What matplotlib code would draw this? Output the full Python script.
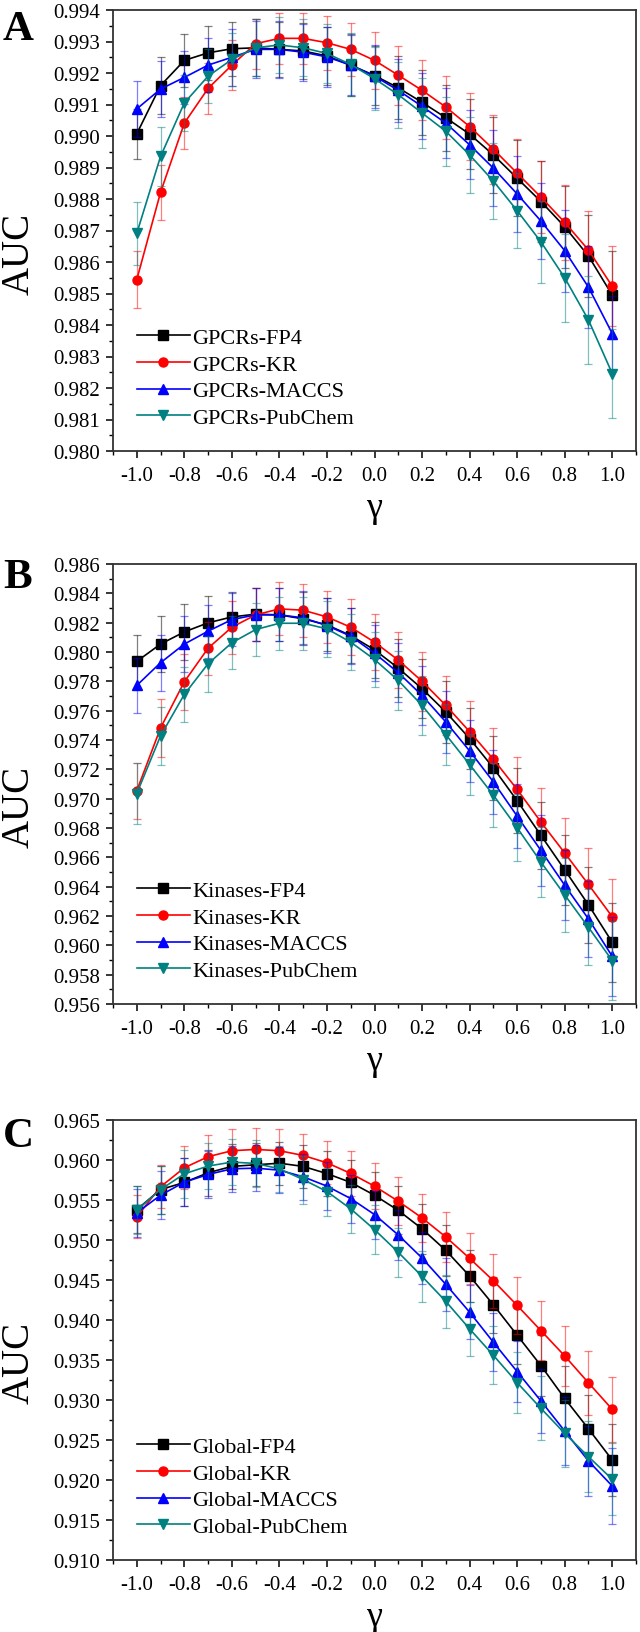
# AUC vs gamma for three target sets
import matplotlib
matplotlib.use("Agg")
import matplotlib.pyplot as plt
from matplotlib.ticker import MultipleLocator, FormatStrFormatter

plt.rcParams['font.family'] = ['Liberation Serif', 'DejaVu Serif']
plt.rcParams['axes.unicode_minus'] = False

gamma = [-1.0, -0.9, -0.8, -0.7, -0.6, -0.5, -0.4, -0.3, -0.2, -0.1, 0.0,
         0.1, 0.2, 0.3, 0.4, 0.5, 0.6, 0.7, 0.8, 0.9, 1.0]

# Panel A - GPCRs
gpcr_fp4 = [0.99007, 0.99160, 0.99240, 0.99264, 0.99277, 0.99280, 0.99275, 0.99270, 0.99254, 0.99225, 0.99192,
            0.99153, 0.99107, 0.99058, 0.99006, 0.98940, 0.98866, 0.98792, 0.98712, 0.98619, 0.98495]
gpcr_kr = [0.98544, 0.98821, 0.99041, 0.99151, 0.99225, 0.99293, 0.99310, 0.99310, 0.99296, 0.99275, 0.99240,
           0.99193, 0.99145, 0.99092, 0.99030, 0.98958, 0.98882, 0.98806, 0.98726, 0.98638, 0.98523]
gpcr_maccs = [0.99086, 0.99149, 0.99186, 0.99225, 0.99250, 0.99275, 0.99275, 0.99266, 0.99251, 0.99225, 0.99190,
              0.99145, 0.99094, 0.99041, 0.98972, 0.98898, 0.98816, 0.98730, 0.98636, 0.98520, 0.98373]
gpcr_pub = [0.98691, 0.98935, 0.99105, 0.99190, 0.99243, 0.99280, 0.99289, 0.99280, 0.99262, 0.99227, 0.99182,
            0.99131, 0.99073, 0.99015, 0.98940, 0.98857, 0.98763, 0.98664, 0.98550, 0.98416, 0.98246]
gpcr_fp4_err = [0.0008, 0.0009, 0.00085, 0.00086, 0.00085, 0.0009, 0.00088, 0.0009, 0.00092, 0.00098, 0.00095,
                0.001, 0.00104, 0.00105, 0.0011, 0.0012, 0.0012, 0.0013, 0.0013, 0.0013, 0.0014]
gpcr_kr_err = [0.0009, 0.00088, 0.00082, 0.0008, 0.0008, 0.0008, 0.0008, 0.0008, 0.00085, 0.00085, 0.0009,
               0.00093, 0.00095, 0.001, 0.00105, 0.0011, 0.0011, 0.00114, 0.0012, 0.00125, 0.00127]
gpcr_maccs_err = [0.0009, 0.0009, 0.00085, 0.00085, 0.0009, 0.0009, 0.0009, 0.0009, 0.00095, 0.00095, 0.001,
                  0.001, 0.00105, 0.0011, 0.0011, 0.0012, 0.0012, 0.0012, 0.0013, 0.0013, 0.0012]
gpcr_pub_err = [0.001, 0.00095, 0.0009, 0.00085, 0.00085, 0.0009, 0.0009, 0.0009, 0.00095, 0.001, 0.001,
                0.00105, 0.0011, 0.0011, 0.0012, 0.0012, 0.0012, 0.0013, 0.0014, 0.0014, 0.0014]

# Panel B - Kinases
kin_fp4 = [0.97936, 0.98054, 0.98137, 0.98199, 0.98239, 0.98258, 0.98253, 0.98226, 0.98185, 0.98112, 0.98015,
           0.97890, 0.97750, 0.97591, 0.97410, 0.97210, 0.96986, 0.96750, 0.96515, 0.96276, 0.96021]
kin_kr = [0.97054, 0.97482, 0.97797, 0.98026, 0.98169, 0.98253, 0.98294, 0.98285, 0.98239, 0.98169, 0.98067,
          0.97945, 0.97800, 0.97636, 0.97457, 0.97269, 0.97063, 0.96841, 0.96630, 0.96415, 0.96195]
kin_maccs = [0.97772, 0.97927, 0.98054, 0.98142, 0.98221, 0.98253, 0.98253, 0.98233, 0.98180, 0.98108, 0.97992,
             0.97859, 0.97704, 0.97523, 0.97326, 0.97115, 0.96881, 0.96647, 0.96410, 0.96180, 0.95925]
kin_pub = [0.97035, 0.97428, 0.97711, 0.97920, 0.98063, 0.98153, 0.98196, 0.98196, 0.98158, 0.98067, 0.97949,
           0.97806, 0.97636, 0.97437, 0.97233, 0.97024, 0.96802, 0.96568, 0.96344, 0.96123, 0.95896]
kin_fp4_err = [0.0018, 0.0019, 0.0019, 0.0018, 0.0017, 0.0018, 0.0018, 0.0018, 0.0018, 0.0019, 0.0019,
               0.002, 0.002, 0.0021, 0.0021, 0.0022, 0.0022, 0.0023, 0.0024, 0.0026, 0.0027]
kin_kr_err = [0.0019, 0.00195, 0.0019, 0.0018, 0.0018, 0.0018, 0.0018, 0.0018, 0.0018, 0.0019, 0.0019,
              0.0019, 0.002, 0.002, 0.0021, 0.0021, 0.0022, 0.0023, 0.0024, 0.0025, 0.0026]
kin_maccs_err = [0.0019, 0.0019, 0.0019, 0.0018, 0.0018, 0.0018, 0.0018, 0.0018, 0.0019, 0.0019, 0.0019,
                 0.002, 0.002, 0.0021, 0.0021, 0.0022, 0.0022, 0.0024, 0.0024, 0.0026, 0.0027]
kin_pub_err = [0.0021, 0.002, 0.0019, 0.0019, 0.0018, 0.0018, 0.0018, 0.0018, 0.0019, 0.0019, 0.0019,
               0.002, 0.002, 0.0021, 0.0021, 0.0022, 0.0023, 0.0024, 0.0025, 0.0026, 0.0027]

# Panel C - Global
glob_fp4 = [0.9538, 0.9563, 0.9572, 0.9584, 0.9592, 0.9594, 0.9596, 0.9592, 0.9583, 0.9572, 0.9556,
            0.9537, 0.9514, 0.9487, 0.9455, 0.9419, 0.9381, 0.9343, 0.9302, 0.9264, 0.9225]
glob_kr = [0.9529, 0.95665, 0.95903, 0.96041, 0.96116, 0.96132, 0.96116, 0.96057, 0.95965, 0.95832, 0.95673,
           0.95485, 0.95276, 0.95038, 0.94771, 0.94491, 0.94182, 0.93868, 0.93551, 0.93215, 0.92883]
glob_maccs = [0.9534, 0.9556, 0.95723, 0.95819, 0.9589, 0.95898, 0.95873, 0.9579, 0.95673, 0.95518, 0.95318,
              0.95063, 0.94775, 0.94445, 0.94098, 0.93722, 0.93355, 0.92988, 0.92613, 0.92238, 0.91925]
glob_pub = [0.95372, 0.95631, 0.95827, 0.95924, 0.95974, 0.95957, 0.9589, 0.95756, 0.95606, 0.95389, 0.9513,
            0.94846, 0.94545, 0.94232, 0.93889, 0.93559, 0.93217, 0.92896, 0.92583, 0.92292, 0.92008]
glob_fp4_err = [0.0029, 0.003, 0.003, 0.0029, 0.0028, 0.0027, 0.0027, 0.0027, 0.0028, 0.0028, 0.0029,
                0.003, 0.0031, 0.0032, 0.0033, 0.0035, 0.0036, 0.0038, 0.004, 0.0042, 0.0045]
glob_kr_err = [0.0027, 0.0027, 0.0027, 0.0027, 0.0027, 0.0027, 0.0027, 0.0027, 0.0027, 0.0028, 0.0029,
               0.003, 0.003, 0.0031, 0.0032, 0.0034, 0.0036, 0.0037, 0.0038, 0.004, 0.0041]
glob_maccs_err = [0.003, 0.003, 0.003, 0.0029, 0.0029, 0.0029, 0.0029, 0.0029, 0.003, 0.003, 0.003,
                  0.0031, 0.0032, 0.0033, 0.0034, 0.0036, 0.0038, 0.004, 0.0042, 0.0044, 0.0047]
glob_pub_err = [0.003, 0.003, 0.003, 0.0029, 0.0029, 0.0029, 0.0029, 0.003, 0.003, 0.003, 0.0031,
                0.0031, 0.0032, 0.0033, 0.0034, 0.0036, 0.0038, 0.004, 0.0042, 0.0044, 0.0045]

fp_names = ['FP4', 'KR', 'MACCS', 'PubChem']
colors = ['black', 'red', 'blue', 'teal']
markers = ['s', 'o', '^', 'v']

panels = [
    ('A', 'GPCRs', [gpcr_fp4, gpcr_kr, gpcr_maccs, gpcr_pub],
     [gpcr_fp4_err, gpcr_kr_err, gpcr_maccs_err, gpcr_pub_err], (0.980, 0.994), 0.001, 0.0005),
    ('B', 'Kinases', [kin_fp4, kin_kr, kin_maccs, kin_pub],
     [kin_fp4_err, kin_kr_err, kin_maccs_err, kin_pub_err], (0.956, 0.986), 0.002, 0.001),
    ('C', 'Global', [glob_fp4, glob_kr, glob_maccs, glob_pub],
     [glob_fp4_err, glob_kr_err, glob_maccs_err, glob_pub_err], (0.910, 0.965), 0.005, 0.0025),
]

fig = plt.figure(figsize=(6.4, 16.33), dpi=100)
H = 1633.0
W = 640.0
# axes top / bottom in pixels, letter baseline in pixels
boxes = [(11, 452, 40), (565, 1005, 588), (1121, 1561, 1147)]

for (letter, group, series, errs, ylim, major, minor), (top, bot, lb) in zip(panels, boxes):
    ax = fig.add_axes([113 / W, 1 - bot / H, (636 - 113) / W, (bot - top) / H])

    for vals, err, c, m, name in zip(series, errs, colors, markers, fp_names):
        ax.errorbar(gamma, vals, yerr=err, fmt='none', ecolor=c, elinewidth=0.9,
                    capsize=3, capthick=0.9, alpha=0.5)
        ax.plot(gamma, vals, color=c, marker=m, markersize=6.5, linewidth=1.2,
                markeredgecolor=c, label=group + '-' + name)

    ax.set_xlim(-1.1, 1.1)
    ax.set_ylim(*ylim)
    ax.xaxis.set_major_locator(MultipleLocator(0.2))
    ax.xaxis.set_minor_locator(MultipleLocator(0.1))
    ax.xaxis.set_major_formatter(FormatStrFormatter('%.1f'))
    ax.yaxis.set_major_locator(MultipleLocator(major))
    ax.yaxis.set_minor_locator(MultipleLocator(minor))
    ax.yaxis.set_major_formatter(FormatStrFormatter('%.3f'))
    ax.tick_params(which='major', direction='out', length=5, width=1.1, labelsize=15, pad=4)
    ax.tick_params(which='minor', direction='out', length=3, width=1.0)
    ax.tick_params(axis='x', pad=6)
    for s in ax.spines.values():
        s.set_linewidth(1.3)
        s.set_color('#333333')

    ax.set_xlabel('γ', fontsize=26, labelpad=4)
    ax.set_ylabel('AUC', fontsize=28)
    ax.yaxis.set_label_coords(-0.145, 0.45)

    ax.legend(loc='lower left', bbox_to_anchor=(0.045, 0.052), frameon=False, fontsize=16,
              handlelength=2.4, handletextpad=0.1, labelspacing=0.28, borderaxespad=0,
              borderpad=0)

    fig.text(3 / W, 1 - lb / H, letter, fontsize=31, fontweight='bold', va='baseline', ha='left')

fig.savefig('out.png', dpi=100)
